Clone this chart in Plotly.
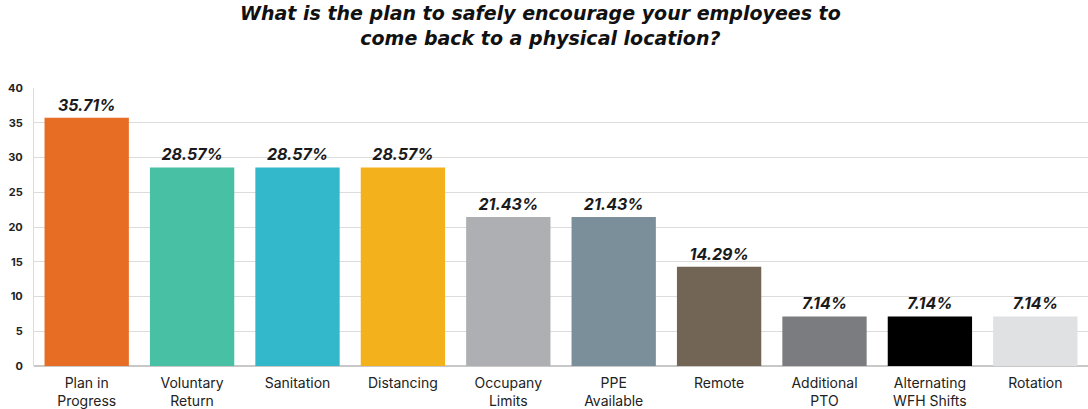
import plotly.graph_objects as go

categories = ["Plan in<br>Progress", "Voluntary<br>Return", "Sanitation", "Distancing",
              "Occupany<br>Limits", "PPE<br>Available", "Remote", "Additional<br>PTO",
              "Alternating<br>WFH Shifts", "Rotation"]
values = [35.71, 28.57, 28.57, 28.57, 21.43, 21.43, 14.29, 7.14, 7.14, 7.14]
labels = [f"{v:.2f}%" for v in values]
colors = ["#E76D24", "#47C0A3", "#32B7CB", "#F3B11C", "#ADAFB2",
          "#7A8F99", "#726555", "#7B7C7F", "#000000", "#E0E1E2"]
y_ticks = [0, 5, 10, 15, 20, 25, 30, 35, 40]
title_text = "What is the plan to safely encourage your employees to<br>come back to a physical location?"

fig = go.Figure(go.Bar(
    x=categories, y=values, marker_color=colors, marker_line_width=0,
    text=labels, textposition="outside", cliponaxis=False,
    textfont=dict(family="Inter", size=16, color="#1a1a1a", weight="bold", style="italic"),
))

fig.update_layout(
    width=1088, height=409,
    margin=dict(l=34, r=0, t=88, b=43),
    paper_bgcolor="white", plot_bgcolor="white",
    bargap=0.2, showlegend=False,
    annotations=[dict(
        text=title_text, xref="paper", yref="paper", x=0.481, y=1.0, yshift=88,
        xanchor="center", yanchor="top", showarrow=False, align="center",
        font=dict(family="DejaVu Sans", size=19, color="#111111", weight="bold", style="italic"),
    )],
)
fig.update_yaxes(
    range=[0, 40], tickvals=y_ticks, showgrid=True, gridcolor="#DCDCDC", gridwidth=1,
    zeroline=True, zerolinecolor="#C8C8C8", zerolinewidth=1.5,
    showline=True, linecolor="#DCDCDC", linewidth=1,
    tickfont=dict(family="Inter", size=11, color="#222222", weight="bold"),
    ticks="", ticklabelstandoff=8,
)
fig.update_xaxes(
    tickfont=dict(family="Inter", size=14, color="#222222"),
    ticks="", showline=False, ticklabelstandoff=7,
)

fig.write_html("out.html")
